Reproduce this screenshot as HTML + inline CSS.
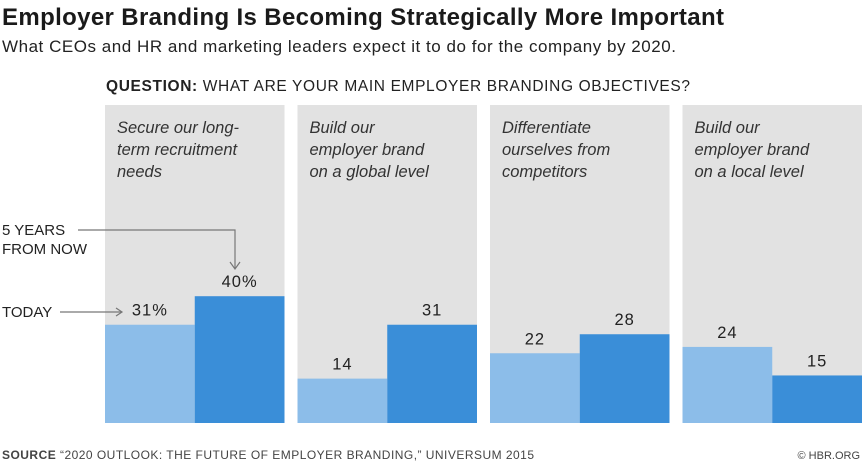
<!DOCTYPE html>
<html><head><meta charset="utf-8"><style>
body{margin:0;background:#fff;width:864px;height:465px;overflow:hidden;font-family:"Liberation Sans",sans-serif;color:#222}
</style></head><body>
<svg width="864" height="465" xmlns="http://www.w3.org/2000/svg">
<text x="2" y="25" font-size="24" font-weight="bold" fill="#1a1a1a" textLength="722">Employer Branding Is Becoming Strategically More Important</text>
<text x="2" y="52" font-size="17" fill="#222" textLength="674">What CEOs and HR and marketing leaders expect it to do for the company by 2020.</text>
<text x="106" y="91" font-size="15.5" fill="#222" textLength="584"><tspan font-weight="bold">QUESTION:</tspan> WHAT ARE YOUR MAIN EMPLOYER BRANDING OBJECTIVES?</text>
<g id="panels"></g>
<text x="2" y="235" font-size="15" fill="#222">5 YEARS</text>
<text x="2" y="254" font-size="15" fill="#222">FROM NOW</text>
<polyline points="78,230 235,230 235,268" fill="none" stroke="#777" stroke-width="1.2"/>
<polyline points="230,262 235,269 240,262" fill="none" stroke="#777" stroke-width="1.2"/>
<text x="2" y="317" font-size="15" fill="#222">TODAY</text>
<line x1="60" y1="312" x2="122" y2="312" stroke="#777" stroke-width="1.2"/>
<polyline points="116,308 122,312 116,316" fill="none" stroke="#777" stroke-width="1.2"/>
<text x="2" y="459" font-size="12" fill="#444" textLength="532"><tspan font-weight="bold">SOURCE</tspan>  “2020 OUTLOOK: THE FUTURE OF EMPLOYER BRANDING,” UNIVERSUM 2015</text>
<text x="860" y="459" font-size="11" fill="#444" text-anchor="end">© HBR.ORG</text>
</svg>
<script>
const categories=[["Secure our long-","term recruitment","needs"],["Build our","employer brand","on a global level"],["Differentiate","ourselves from","competitors"],["Build our","employer brand","on a local level"]];
const today=[31,14,22,24];
const future=[40,31,28,15];
const todayLabels=["31%","14","22","24"];
const futureLabels=["40%","31","28","15"];
const g=document.getElementById('panels');
const NS="http://www.w3.org/2000/svg";
const panelTop=105,base=423,x0=105,pw=179.5,gap=13;
const y=v=>base-v*3.17;
function mk(t,a,p){const e=document.createElementNS(NS,t);for(const k in a)e.setAttribute(k,a[k]);(p||g).appendChild(e);return e;}
categories.forEach((c,i)=>{
  const px=x0+i*(pw+gap);
  const bg=mk('rect',{x:px,y:panelTop,width:pw,height:base-panelTop,fill:'#e2e2e2'});
  
  
  c.forEach((l,j)=>{const t=mk('text',{x:px+12,y:133+j*22,'font-size':16.5,'font-style':'italic',fill:'#333'});t.textContent=l;
    
    });
  const bw=pw/2;
  const b1=mk('rect',{x:px,y:y(today[i]),width:bw,height:base-y(today[i]),fill:'#8cbde9'});
  
  
  const b2=mk('rect',{x:px+bw,y:y(future[i]),width:bw,height:base-y(future[i]),fill:'#3a8ed8'});
  
  
  const t1=mk('text',{x:px+bw/2,y:y(today[i])-9,'font-size':16.5,'letter-spacing':1,'text-anchor':'middle',fill:'#222'});t1.textContent=todayLabels[i];
  
  
  const t2=mk('text',{x:px+bw*1.5,y:y(future[i])-9,'font-size':16.5,'letter-spacing':1,'text-anchor':'middle',fill:'#222'});t2.textContent=futureLabels[i];
  
  
});
</script>
</body></html>
